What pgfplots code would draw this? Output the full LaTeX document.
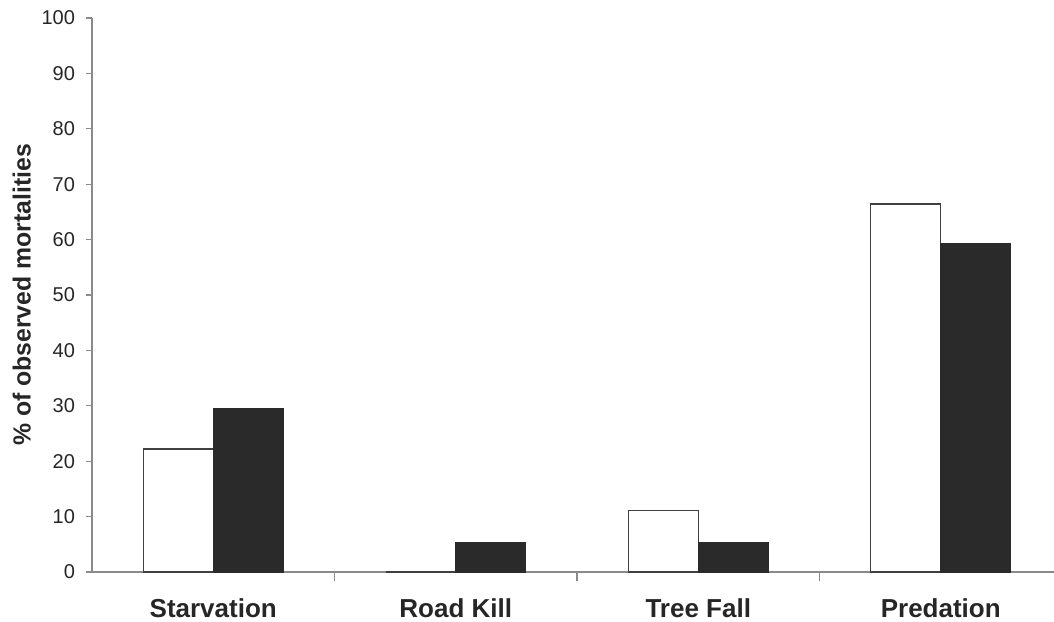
\documentclass[border=0pt]{standalone}
\usepackage{fontspec}
\setmainfont{Liberation Sans}
\usepackage{pgfplots}
\pgfplotsset{compat=1.18}
\definecolor{barblack}{HTML}{2A2A2A}
\definecolor{axisgrey}{HTML}{8A8A8A}

\begin{document}
\begin{tikzpicture}
\useasboundingbox (-46pt,-24.5pt) rectangle (481pt,286pt);
\begin{axis}[
    at={(0,0)}, anchor=south west,
    scale only axis,
    width=485pt, height=277pt,
    ybar=0pt, bar width=35pt,
    xmin=-0.5, xmax=3.5,
    ymin=0, ymax=100,
    ytick={0,10,...,100},
    xtick={0,1,2,3},
    xticklabels={Starvation, Road Kill, Tree Fall, Predation},
    minor xtick={0.5,1.5,2.5},
    axis x line*=bottom, axis y line*=left,
    axis line style={axisgrey, line width=0.6pt, -},
    tick align=outside,
    major tick length=3pt, minor tick length=4.5pt,
    major x tick style={draw=none},
    every tick/.style={axisgrey, line width=0.6pt},
    tick label style={font=\fontsize{10}{12}\selectfont, text=black!85},
    xticklabel style={font=\fontsize{13}{15}\selectfont\bfseries, yshift=-7pt},
    yticklabel style={xshift=-2pt},
    ylabel={\% of observed mortalities},
    ylabel style={font=\fontsize{12.4}{14}\selectfont\bfseries, text=black!85, yshift=-1.5pt},
    /pgf/number format/assume math mode=true,
    clip=false,
]
\addplot[fill=white, draw=black!75, line width=0.7pt] coordinates {(0,22.2) (1,0) (2,11.1) (3,66.4)};
\addplot[fill=barblack, draw=barblack, line width=0.5pt] coordinates {(0,29.6) (1,5.4) (2,5.4) (3,59.3)};
\end{axis}
\end{tikzpicture}
\end{document}
